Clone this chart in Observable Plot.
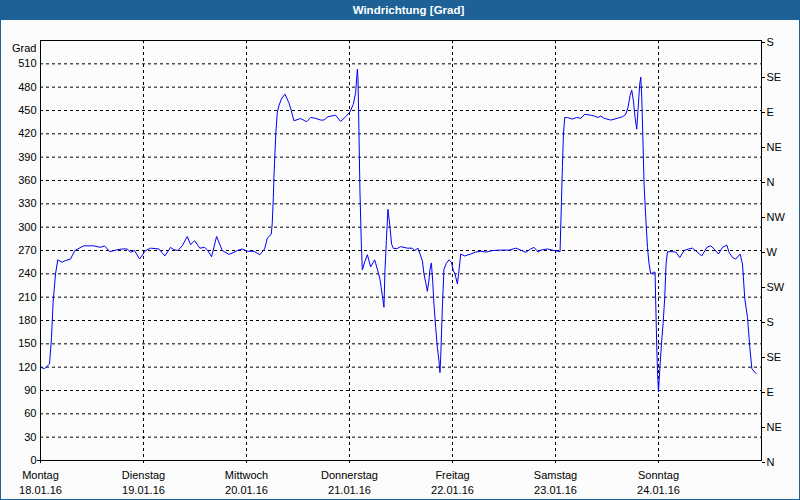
<!DOCTYPE html>
<html>
<head>
<meta charset="utf-8">
<script src="https://cdn.jsdelivr.net/npm/d3@7"></script>
<script src="https://cdn.jsdelivr.net/npm/@observablehq/plot@0.6"></script>
<style>
  html, body { margin: 0; padding: 0; background: #fbfcfb; }
  #wrap { position: relative; width: 800px; height: 500px; background: #fbfcfb; overflow: hidden; }
  #title { position: absolute; left: 0; top: 0; width: 800px; height: 20px; background: #1d6196;
           color: #fff; font: bold 11.5px "Liberation Sans", Arial, sans-serif; line-height: 20px;
           text-align: center; box-sizing: border-box; padding-left: 17px; }
  #chart { position: absolute; left: 0; top: 20px; }
  #border { position: absolute; left: 0; top: 0; width: 800px; height: 500px; box-sizing: border-box;
            border: 1px solid #1d6196; pointer-events: none; }
</style>
</head>
<body>
<div id="wrap">
  <div id="title">Windrichtung [Grad]</div>
  <div id="chart"></div>
  <div id="border"></div>
</div>
<script>
// Hours since Monday 18.01.16 00:00
const hours = [0,0.93,2.10,2.56,2.96,3.50,4.03,5.06,5.83,6.99,8.00,10.09,12.42,13.99,14.92,16.15,17.88,19.05,20.21,20.98,21.91,23.08,24.48,25.64,27.58,28.98,30.30,31.07,32.01,33.03,34.20,34.97,35.90,37.13,38.23,38.86,39.86,41.03,42.36,43.89,45.06,45.85,47.02,48.18,49.72,51.12,52.22,52.85,53.78,54.01,54.25,54.39,54.62,54.85,55.18,55.55,56.11,56.95,57.88,58.44,59.05,60.61,62.01,62.94,64.11,65.27,66.04,66.97,68.77,69.93,71.10,72.10,72.89,73.43,73.83,73.97,74.20,74.43,74.76,74.99,75.53,76.16,76.93,77.86,78.49,79.10,79.65,80.03,80.26,80.59,80.96,81.36,81.82,82.22,83.15,83.92,85.48,86.65,87.18,87.95,88.58,88.98,89.35,89.75,90.14,90.52,90.75,91.08,91.38,91.68,92.08,92.47,92.85,93.08,93.24,93.64,94.01,94.57,95.18,95.74,96.20,96.58,97.14,97.51,97.91,98.84,100.24,101.40,102.57,103.97,105.30,107.23,109.17,110.73,111.89,113.06,114.22,114.99,115.93,116.56,118.12,119.66,121.06,121.38,121.61,121.85,122.15,122.78,123.94,124.95,125.88,126.81,128.21,128.98,129.91,130.54,131.31,132.87,134.43,135.60,136.36,136.90,137.37,137.77,138.16,138.54,138.93,139.24,139.63,139.87,140.10,140.33,140.64,141.03,141.43,141.80,142.20,142.83,143.20,143.36,143.60,143.76,143.99,144.29,144.69,145.06,145.46,145.76,146.09,147.25,148.02,148.96,149.96,150.99,151.92,153.08,154.09,155.25,156.18,156.96,157.98,158.91,159.92,160.45,161.24,162.01,163.01,163.57,164.11,164.74,165.28,165.75,166.68];
// Wind direction in degrees (continuous, unwrapped)
const degrees = [120,118,124,158,205,240,258,255,257,259,270,276,276,274,276,268.5,271,272,272,267.7,270,259,270,273,272,263,274,271,270,276,288,277.5,282.6,273,274,271,262,288,270,265,267.7,270,272,269,269,264.6,272,286,291,306,338,364,394,422,447.5,456,464.7,471,460,449.6,436.8,439.7,435.5,441,440,437.7,437.7,442,444,436,442,448,458,473,503,492,424,347,278,245,255,264.6,249,258,246,233,212,197,244,282.6,323,304,278,272.7,272.7,275,273,273,270,273,263,257,240,229,217.5,232,246,254,231,201,171,145.6,128,113,130.6,197,246,253.5,258,255,244,240,227,244,265.5,263,265.5,268,269,268,270,270.5,270.5,273,270.5,267.7,272,274,268,270.5,272,270,268.5,332,377,420,441,441,439,441,440,445,444,443,441,443,440,437.7,440,442,445,454,469,476,462.5,441,426,452,484,493,467,420,355,312.6,274,252.7,240,242,242,201,145.6,115.6,88,115.6,150,175.6,210,252.7,268.5,268.5,268,261,270,272,273,267.7,263,274,276,272,265.5,274,277,267.7,261,259,265.5,252.7,207.7,184,145.6,118,112];

const dayNames = ["Montag","Dienstag","Mittwoch","Donnerstag","Freitag","Samstag","Sonntag"];
const dayDates = ["18.01.16","19.01.16","20.01.16","21.01.16","22.01.16","23.01.16","24.01.16"];
const yTicks = [0,30,60,90,120,150,180,210,240,270,300,330,360,390,420,450,480,510];
const compassTicks = [0,45,90,135,180,225,270,315,360,405,450,495,540];
const compassLabels = ["N","NE","E","SE","S","SW","W","NW","N","NE","E","SE","S"];

const start = Date.UTC(2016, 0, 18);
const H = 3600 * 1000;
const data = hours.map((h, i) => ({ t: new Date(start + h * H), v: degrees[i] }));
const dayTicks = dayNames.map((_, i) => new Date(start + i * 24 * H));
const endDate = new Date(start + 7 * 24 * H);

const chart = Plot.plot({
  width: 800,
  height: 480,
  marginLeft: 40,
  marginRight: 39,
  marginTop: 20,
  marginBottom: 40,
  style: { background: "#fbfcfb", fontFamily: "'Liberation Sans', Arial, sans-serif", fontSize: "11px", color: "#000" },
  x: { type: "utc", domain: [new Date(start), endDate] },
  y: { domain: [0, 540] },
  marks: [
    Plot.gridY(yTicks.filter(d => d > 0), { stroke: "#000", strokeOpacity: 1, strokeDasharray: "3,3" }),
    Plot.gridX(dayTicks.slice(1), { stroke: "#000", strokeOpacity: 1, strokeDasharray: "3,3" }),
    Plot.line(data, { x: "t", y: "v", stroke: "#0000f5", strokeWidth: 1 }),
    Plot.frame({ stroke: "#000" }),
    Plot.axisY(yTicks, { anchor: "left", tickSize: 0, tickPadding: 4, label: null, fill: "#000" }),
    Plot.axisY([0], { anchor: "left", tickSize: 3, text: null, label: null }),
    Plot.axisY(compassTicks, { anchor: "right", tickSize: 3, tickPadding: 2, dy: 2, label: null, fill: "#000",
      tickFormat: d => compassLabels[compassTicks.indexOf(d)] }),
    Plot.axisX(dayTicks, { anchor: "bottom", tickSize: 3, tickPadding: 5, label: null, fill: "#000", lineHeight: 1.36,
      tickFormat: d => { const i = dayTicks.findIndex(t => +t === +d); return dayNames[i] + "\n" + dayDates[i]; } }),
    Plot.text(["Grad"], { frameAnchor: "top-left", dx: -4, dy: 4, textAnchor: "end", fill: "#000" })
  ]
});
document.getElementById("chart").appendChild(chart);
</script>
</body>
</html>
